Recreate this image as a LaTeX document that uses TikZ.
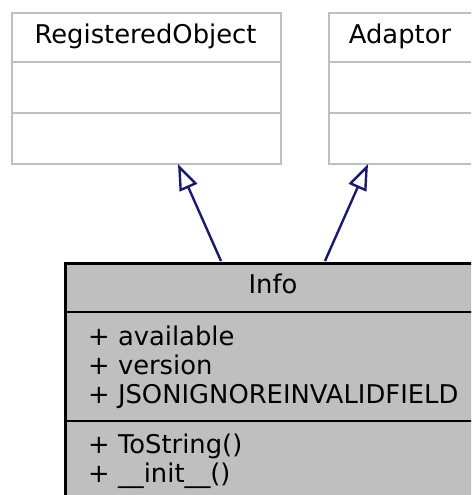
\documentclass[tikz,border=0pt]{standalone}
\usepackage{fontspec}
\setmainfont{DejaVu Sans}
\usetikzlibrary{arrows.meta}
\definecolor{gline}{HTML}{BFBFBF}
\definecolor{gfill}{HTML}{BFBFBF}
\definecolor{navy}{HTML}{191970}
\tikzset{
  gbox/.style={draw=gline, line width=2.4pt, fill=white},
  ibox/.style={draw=black, line width=2.8pt, fill=gfill},
  lbl/.style={inner sep=0pt, font=\fontsize{25.8}{29}\selectfont},
  inherit/.style={draw=navy, line width=2.4pt, -{Triangle[open, length=26pt, width=19pt, fill=white]}},
}
\begin{document}
\begin{tikzpicture}[x=1pt, y=-1pt]
\useasboundingbox (0,0) rectangle (471,495);
\clip (0,0) rectangle (471,495);
% RegisteredObject
\node[gbox, minimum width=269pt, minimum height=151pt, anchor=north west, inner sep=0pt] (ro) at (11,12) {};
\draw[gline, line width=2.4pt] (11,62) -- (280,62) (11,113) -- (280,113);
\node[lbl, anchor=base] (rot) at (145.5,44) {RegisteredObject};
% Adaptor
\node[gbox, minimum width=147pt, minimum height=151pt, anchor=north west, inner sep=0pt] (ad) at (328,12) {};
\draw[gline, line width=2.4pt] (328,62) -- (475,62) (328,113) -- (475,113);
\node[lbl, anchor=base] (adt) at (400,44) {Adaptor};
% Info
\node[ibox, minimum width=418pt, minimum height=260pt, anchor=north west, inner sep=0pt] (info) at (64,262) {};
\draw[black, line width=2.8pt] (64,312) -- (485,312) (64,421) -- (485,421);
\node[lbl, anchor=base] (infot) at (273,293) {Info};
\node[lbl, anchor=base west] (a1) at (88,345) {+ available};
\node[lbl, anchor=base west] (a2) at (88,374) {+ version};
\node[lbl, anchor=base west] (a3) at (88,403) {+ JSONIGNOREINVALIDFIELD};
\node[lbl, anchor=base west] (m1) at (88,453) {+ ToString()};
\node[lbl, anchor=base west] (m2) at (88,482) {+ \_\_init\_\_()};
% connectors
\coordinate (ro-in) at (178,164);
\coordinate (ad-in) at (368,164);
\coordinate (info-l) at (221,261);
\coordinate (info-r) at (325,261);
\draw[inherit] (info-l) -- (ro-in);
\draw[inherit] (info-r) -- (ad-in);
\end{tikzpicture}
\end{document}
